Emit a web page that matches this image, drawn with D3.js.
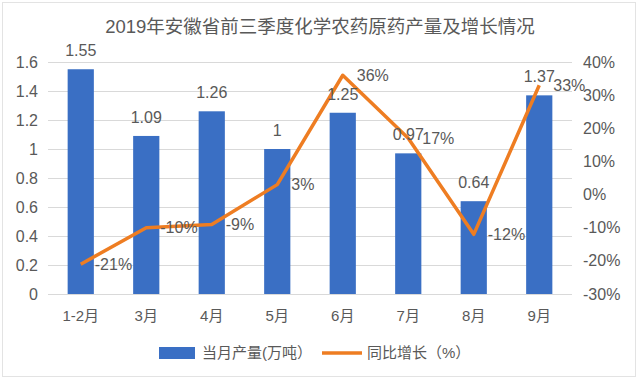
<!DOCTYPE html>
<html><head><meta charset="utf-8">
<script src="https://cdn.jsdelivr.net/npm/d3@7"></script>
<style>
body{margin:0;background:#fff;}
text{font-family:"Liberation Sans","Noto Sans CJK SC",sans-serif;fill:#595959;}
</style></head>
<body><svg id="c" width="640" height="380"></svg>
<script>
const title = "2019年安徽省前三季度化学农药原药产量及增长情况";
const categories = ["1-2月","3月","4月","5月","6月","7月","8月","9月"];
const output = [1.55,1.09,1.26,1,1.25,0.97,0.64,1.37];
const growth = [-21,-10,-9,3,36,17,-12,33];
const leftTicks = [0,0.2,0.4,0.6,0.8,1,1.2,1.4,1.6];
const rightTicks = [-30,-20,-10,0,10,20,30,40];
const seriesNames = ["当月产量(万吨）","同比增长（%）"];

const blue = "#3A6FC4", orange = "#EE7D22";
const svg = d3.select("#c");
const L = 48, R = 572, T = 62, B = 294;

svg.append("rect").attr("x",2.5).attr("y",2.5).attr("width",633).attr("height",374)
  .attr("fill","#fff").attr("stroke","#e3e3e3");

const x = d3.scaleBand().domain(categories).range([L,R]).paddingInner(0.6).paddingOuter(0.3);
const y = d3.scaleLinear().domain([0,1.6]).range([B,T]);
const y2 = d3.scaleLinear().domain([-30,40]).range([B,T]);

// grid
const grid = svg.append("g").attr("transform",`translate(${L},0)`)
  .call(d3.axisLeft(y).tickValues(leftTicks).tickSize(-(R-L)).tickFormat(""));
grid.select(".domain").remove();
grid.selectAll("line").attr("stroke","#d9d9d9");

// left axis labels
const la = svg.append("g").attr("transform",`translate(${L-10},0)`)
  .call(d3.axisLeft(y).tickValues(leftTicks).tickSize(0).tickPadding(0).tickFormat(d=>d3.format("~g")(d)));
la.select(".domain").remove();
la.selectAll("text").attr("font-size",16).attr("fill","#595959");

// right axis labels
const ra = svg.append("g").attr("transform",`translate(${R+11},0)`)
  .call(d3.axisRight(y2).tickValues(rightTicks).tickSize(0).tickPadding(0).tickFormat(d=>d+"%"));
ra.select(".domain").remove();
ra.selectAll("text").attr("font-size",16).attr("fill","#595959");

// x axis labels
const xa = svg.append("g").attr("transform",`translate(0,${B})`)
  .call(d3.axisBottom(x).tickSize(0).tickPadding(16));
xa.select(".domain").remove();
xa.selectAll("text").attr("font-size",15).attr("fill","#595959");

// bars
svg.append("g").selectAll("rect").data(output).join("rect")
  .attr("x",(d,i)=>x(categories[i])).attr("width",x.bandwidth())
  .attr("y",d=>y(d)).attr("height",d=>B-y(d)).attr("fill",blue);

// line
const cx = i => x(categories[i]) + x.bandwidth()/2;
svg.append("path").datum(growth)
  .attr("d",d3.line().x((d,i)=>cx(i)).y(d=>y2(d)))
  .attr("fill","none").attr("stroke",orange).attr("stroke-width",3.5).attr("stroke-linejoin","round");

// bar labels
svg.append("g").selectAll("text").data(output).join("text")
  .attr("x",(d,i)=>cx(i)).attr("y",d=>y(d)-13).attr("text-anchor","middle")
  .attr("font-size",16).text(d=>d3.format("~g")(d));

// line labels
svg.append("g").selectAll("text").data(growth).join("text")
  .attr("x",(d,i)=>cx(i)+14).attr("y",d=>y2(d)).attr("dy","0.36em")
  .attr("font-size",16).text(d=>d+"%");

// title
svg.append("text").attr("x",320).attr("y",33).attr("text-anchor","middle")
  .attr("font-size",18.5).text(title);

// legend
const lg = svg.append("g");
lg.append("rect").attr("x",159).attr("y",347).attr("width",36).attr("height",12).attr("fill",blue);
lg.append("text").attr("x",202).attr("y",353).attr("dy","0.36em").attr("font-size",15).text(seriesNames[0]);
lg.append("line").attr("x1",322).attr("x2",362).attr("y1",353).attr("y2",353)
  .attr("stroke",orange).attr("stroke-width",3.5);
lg.append("text").attr("x",367).attr("y",353).attr("dy","0.36em").attr("font-size",15).text(seriesNames[1]);
</script></body></html>
